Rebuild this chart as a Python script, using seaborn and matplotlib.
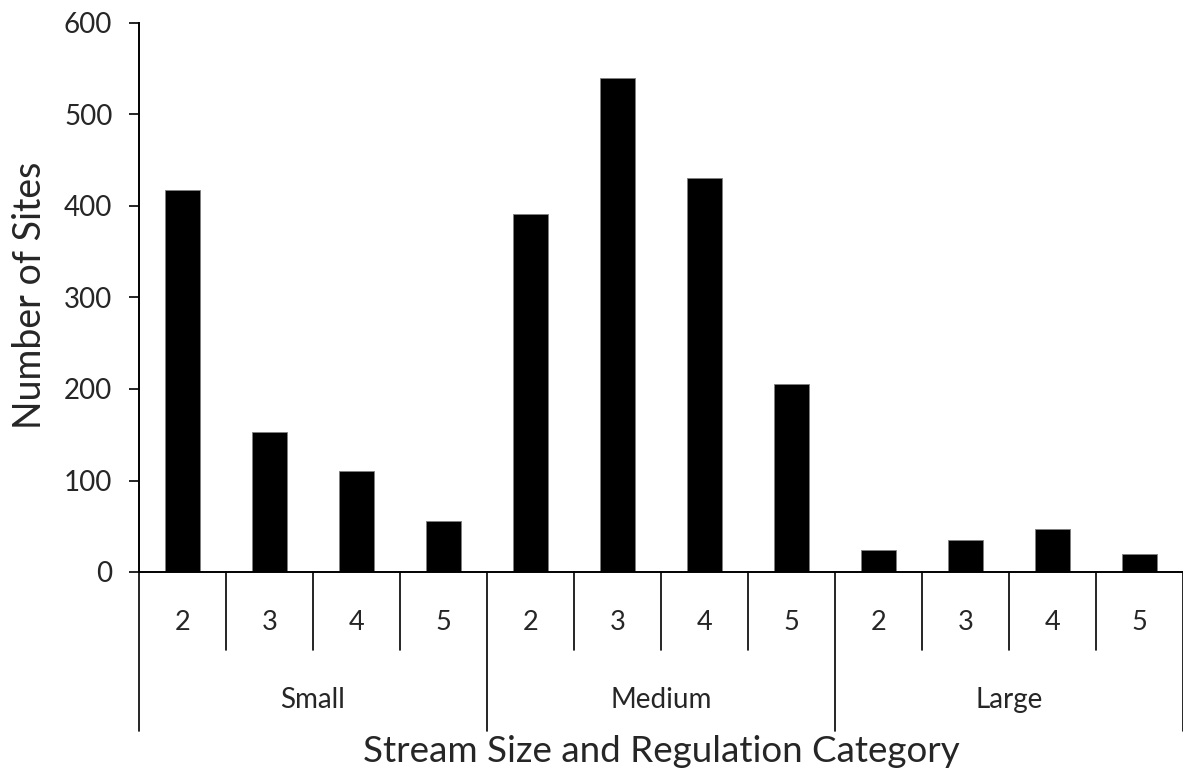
import matplotlib
matplotlib.use("Agg")
import matplotlib.pyplot as plt
import seaborn as sns
import pandas as pd

sizes = ["Small", "Medium", "Large"]
regulation = ["2", "3", "4", "5"]
small_sites = [418, 153, 110, 56]
medium_sites = [391, 540, 431, 205]
large_sites = [24, 35, 47, 20]
y_ticks = [0, 100, 200, 300, 400, 500, 600]

rows = []
for s, vals in zip(sizes, [small_sites, medium_sites, large_sites]):
    for r, v in zip(regulation, vals):
        rows.append({"key": f"{s} {r}", "size": s, "reg": r, "sites": v})
df = pd.DataFrame(rows)

sns.set_theme(style="white")
plt.rcParams["font.family"] = ["Lato", "DejaVu Sans"]

fig = plt.figure(figsize=(11.83, 7.80), dpi=100)
ax = fig.add_axes([139/1183, 1-572/780, 1-139/1183, (572-23)/780])

sns.barplot(data=df, x="key", y="sites", color="black", width=0.4,
            edgecolor="#808080", linewidth=0.6, ax=ax, saturation=1)

ax.set_ylim(0, 600)
ax.set_xlim(-0.5, 11.5)
ax.set_yticks(y_ticks)
ax.set_yticklabels([str(t) for t in y_ticks], fontsize=20)
ax.tick_params(axis="y", which="major", left=True, direction="out", length=7.2,
               width=1.2, color="black", pad=12)
ax.set_xticks([])
ax.set_xlabel("")
ax.set_ylabel("")
for sp in ["top", "right"]:
    ax.spines[sp].set_visible(False)
for sp in ["left", "bottom"]:
    ax.spines[sp].set_color("black")
    ax.spines[sp].set_linewidth(1.4)

tr = ax.get_xaxis_transform()
short = 78/549
long = 159/549
for i in range(13):
    x = i - 0.5
    ln = long if i % 4 == 0 else short
    ax.plot([x, x], [0, -ln], transform=tr, color="black", lw=1.2, clip_on=False)

for i, row in df.iterrows():
    ax.text(i, -51/549, row["reg"], transform=tr, ha="center", va="center", fontsize=19.5)
for g, s in enumerate(sizes):
    ax.text(g*4 + 1.5, -128/549, s, transform=tr, ha="center", va="center", fontsize=20)

fig.text(661/1183, 1-752/780, "Stream Size and Regulation Category", ha="center", va="center", fontsize=26.5)
fig.text(30/1183, 1-295/780, "Number of Sites", ha="center", va="center", rotation=90, fontsize=27)

fig.savefig("out.png", dpi=100)
